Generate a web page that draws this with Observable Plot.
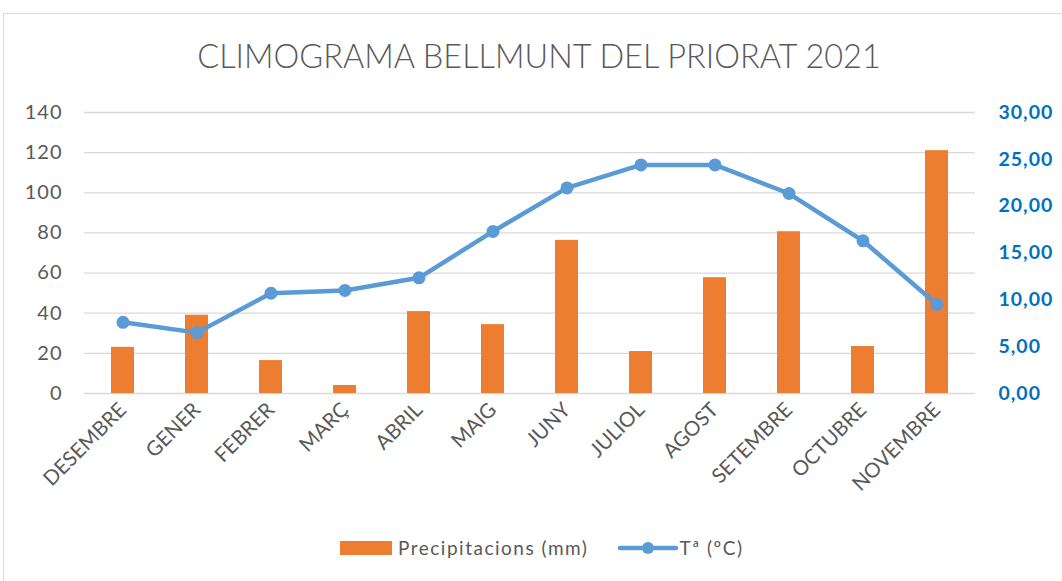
<!DOCTYPE html>
<html>
<head>
<meta charset="utf-8">
<script src="https://cdn.jsdelivr.net/npm/d3@7"></script>
<script src="https://cdn.jsdelivr.net/npm/@observablehq/plot@0.6"></script>
<style>
  html, body { margin: 0; padding: 0; background: #fff; overflow: hidden; }
  #wrap { position: relative; width: 1062px; height: 581px; overflow: hidden; font-family: Lato, "Open Sans", sans-serif; }
  #frame { position: absolute; left: 3px; top: 13px; width: 1100px; height: 620px; border: 1px solid #d9d9d9; box-sizing: border-box; }
  #title { position: absolute; left: 0; top: 36px; width: 1078px; text-align: center; font-size: 32.5px; color: #595959; font-weight: 300; }
  #chart { position: absolute; left: 0; top: 90px; }
  #legend { position: absolute; top: 536px; left: 340px; display: flex; align-items: center; font-size: 19px; color: #595959; letter-spacing: 1.5px; }
  .sw { display: inline-block; }
  #chart g[aria-label="y-axis tick label"] text { letter-spacing: 1px; }
</style>
</head>
<body>
<div id="wrap">
  <div id="frame"></div>
  <div id="title">CLIMOGRAMA BELLMUNT DEL PRIORAT 2021</div>
  <div id="chart"></div>
  <div id="legend">
    <span class="sw" style="width:52px;height:14px;background:#ED7D31;margin-right:6px"></span>
    <span>Precipitacions (mm)</span>
    <svg class="sw" width="60" height="16" style="margin-left:30px;margin-right:1px"><line x1="2" y1="8" x2="58" y2="8" stroke="#5B9BD5" stroke-width="4.5" stroke-linecap="round"/><circle cx="30" cy="8" r="6" fill="#5B9BD5"/></svg>
    <span>Tª (ºC)</span>
  </div>
</div>
<script>
const months = ["DESEMBRE","GENER","FEBRER","MARÇ","ABRIL","MAIG","JUNY","JULIOL","AGOST","SETEMBRE","OCTUBRE","NOVEMBRE"];
const precip = [23, 39, 16.4, 4, 40.8, 34.3, 76.3, 20.9, 57.7, 80.6, 23.4, 121];
const temp = [7.6, 6.5, 10.7, 11.0, 12.35, 17.3, 21.95, 24.4, 24.4, 21.35, 16.3, 9.5];
const leftTicks = [0, 20, 40, 60, 80, 100, 120, 140];
const rightTicks = [0, 5, 10, 15, 20, 25, 30];

const pMax = 140, tMax = 30;
const k = pMax / tMax;
const data = months.map((m, i) => ({month: m, precip: precip[i], temp: temp[i], tScaled: temp[i] * k}));

const chart = Plot.plot({
  width: 1062,
  height: 440,
  marginLeft: 84,
  marginRight: 87,
  marginTop: 22,
  marginBottom: 137,
  style: {fontFamily: "Lato, 'Open Sans', sans-serif", background: "transparent"},
  x: {domain: months, paddingInner: 0.69, paddingOuter: 0.345, label: null},
  y: {domain: [0, pMax], label: null},
  marks: [
    Plot.gridY(leftTicks, {stroke: "#d9d9d9", strokeOpacity: 1, strokeWidth: 1.3}),
    Plot.axisY({ticks: leftTicks, tickSize: 0, tickPadding: 22, fontSize: 20, fill: "#595959", label: null}),
    Plot.axisY({anchor: "right", ticks: rightTicks.map(t => t * k), tickSize: 0, tickPadding: 23, fontSize: 19.5, fontWeight: "bold", fill: "#0070C0", label: null,
      tickFormat: d => (d / k).toFixed(2).replace(".", ",")}),
    Plot.axisX({tickSize: 0, tickPadding: 13, tickRotate: -45, fontSize: 20.5, fill: "#595959", label: null}),
    Plot.barY(data, {x: "month", y: "precip", fill: "#ED7D31"}),
    Plot.line(data, {x: "month", y: "tScaled", stroke: "#5B9BD5", strokeWidth: 4.5}),
    Plot.dot(data, {x: "month", y: "tScaled", r: 6.5, fill: "#5B9BD5"})
  ]
});
document.getElementById("chart").appendChild(chart);
</script>
</body>
</html>
